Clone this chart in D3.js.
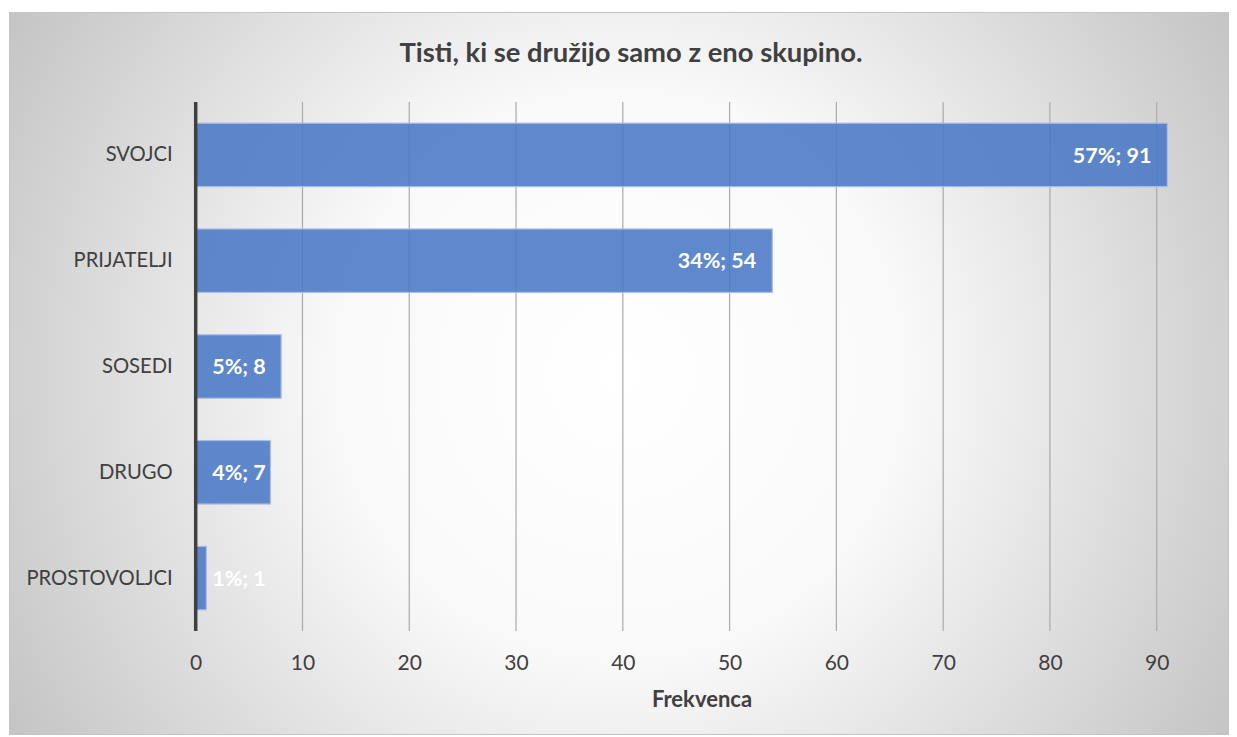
<!DOCTYPE html>
<html><head><meta charset="utf-8">
<script src="https://cdn.jsdelivr.net/npm/d3@7/dist/d3.min.js"></script>
<style>html,body{margin:0;padding:0;background:#fff;}svg{display:block;}</style>
</head><body>
<script>
const categories = ["SVOJCI", "PRIJATELJI", "SOSEDI", "DRUGO", "PROSTOVOLJCI"];
const values = [91, 54, 8, 7, 1];
const percents = ["57%", "34%", "5%", "4%", "1%"];
const xTicks = [0, 10, 20, 30, 40, 50, 60, 70, 80, 90];
const title = "Tisti, ki se družijo samo z eno skupino.";
const xTitle = "Frekvenca";

const W = 1237, H = 737;
const svg = d3.select("body").append("svg").attr("width", W).attr("height", H);
const defs = svg.append("defs");
const rg = defs.append("radialGradient").attr("id", "bg")
  .attr("gradientUnits", "userSpaceOnUse")
  .attr("cx", 620).attr("cy", 374).attr("r", 718);
rg.append("stop").attr("offset", "0").attr("stop-color", "#ffffff");
rg.append("stop").attr("offset", "0.4").attr("stop-color", "#f9f9f9");
rg.append("stop").attr("offset", "1").attr("stop-color", "#c3c3c3");

svg.append("rect").attr("x", 9.5).attr("y", 12.5).attr("width", 1219).attr("height", 722)
  .attr("fill", "url(#bg)").attr("stroke", "#c4c4c4").attr("stroke-width", 1);

const font = "Lato, 'Open Sans', sans-serif";
const x0 = 195.7, x1 = 195.7 + 100 * 10.678;
const x = d3.scaleLinear().domain([0, 100]).range([x0, x1]);
const y = d3.scaleBand().domain(categories).range([102, 631]).paddingInner(0.4).paddingOuter(0.2);

// gridlines
const g = svg.append("g");
g.selectAll("line.grid").data(xTicks.filter(t => t > 0)).join("line")
  .attr("x1", d => x(d)).attr("x2", d => x(d)).attr("y1", 102).attr("y2", 631)
  .attr("stroke", "#aaaaaa").attr("stroke-width", 1.2);

// x axis tick labels
const xAxis = d3.axisBottom(x).tickValues(xTicks).tickSize(0).tickPadding(0);
const xa = svg.append("g").attr("transform", "translate(0,655)").call(xAxis);
xa.select(".domain").remove();
xa.selectAll("text").attr("font-family", font).attr("font-size", 21).attr("fill", "#404040")
  .attr("dy", "0.71em");

// bars
svg.selectAll("rect.bar").data(values).join("rect").attr("class", "bar")
  .attr("x", x(0)).attr("y", (d, i) => y(categories[i]))
  .attr("width", d => x(d) - x(0)).attr("height", y.bandwidth())
  .attr("fill", "#4a77c6").attr("fill-opacity", 0.88)
  .attr("stroke", "#a9bfe6").attr("stroke-width", 1.2);

// y axis
const yAxis = d3.axisLeft(y).tickSize(0).tickPadding(23);
const ya = svg.append("g").attr("transform", `translate(${x0},0)`).call(yAxis);
ya.select(".domain").remove();
ya.selectAll("text").attr("font-family", font).attr("font-size", 20.2).attr("fill", "#404040");
svg.append("line").attr("x1", x0).attr("x2", x0).attr("y1", 102).attr("y2", 631)
  .attr("stroke", "#404040").attr("stroke-width", 3.5);

// data labels
svg.selectAll("text.lbl").data(values).join("text").attr("class", "lbl")
  .attr("font-family", font).attr("font-weight", "bold").attr("font-size", 21.5).attr("fill", "#ffffff")
  .attr("y", (d, i) => y(categories[i]) + y.bandwidth() / 2).attr("dy", "0.36em")
  .text((d, i) => `${percents[i]}; ${d}`)
  .each(function (d) {
    const w = this.getComputedTextLength();
    let left = x(d) - 16 - w;
    if (left < x0 + 16.5) left = x0 + 16.5;
    d3.select(this).attr("x", left);
  });

// title
svg.append("text").attr("x", 631).attr("y", 62).attr("text-anchor", "middle")
  .attr("font-family", font).attr("font-weight", "bold").attr("font-size", 27.4).attr("fill", "#404040")
  .text(title);
svg.append("text").attr("x", 702).attr("y", 707).attr("text-anchor", "middle")
  .attr("font-family", font).attr("font-weight", "bold").attr("font-size", 22).attr("fill", "#404040")
  .text(xTitle);
</script>
</body></html>
